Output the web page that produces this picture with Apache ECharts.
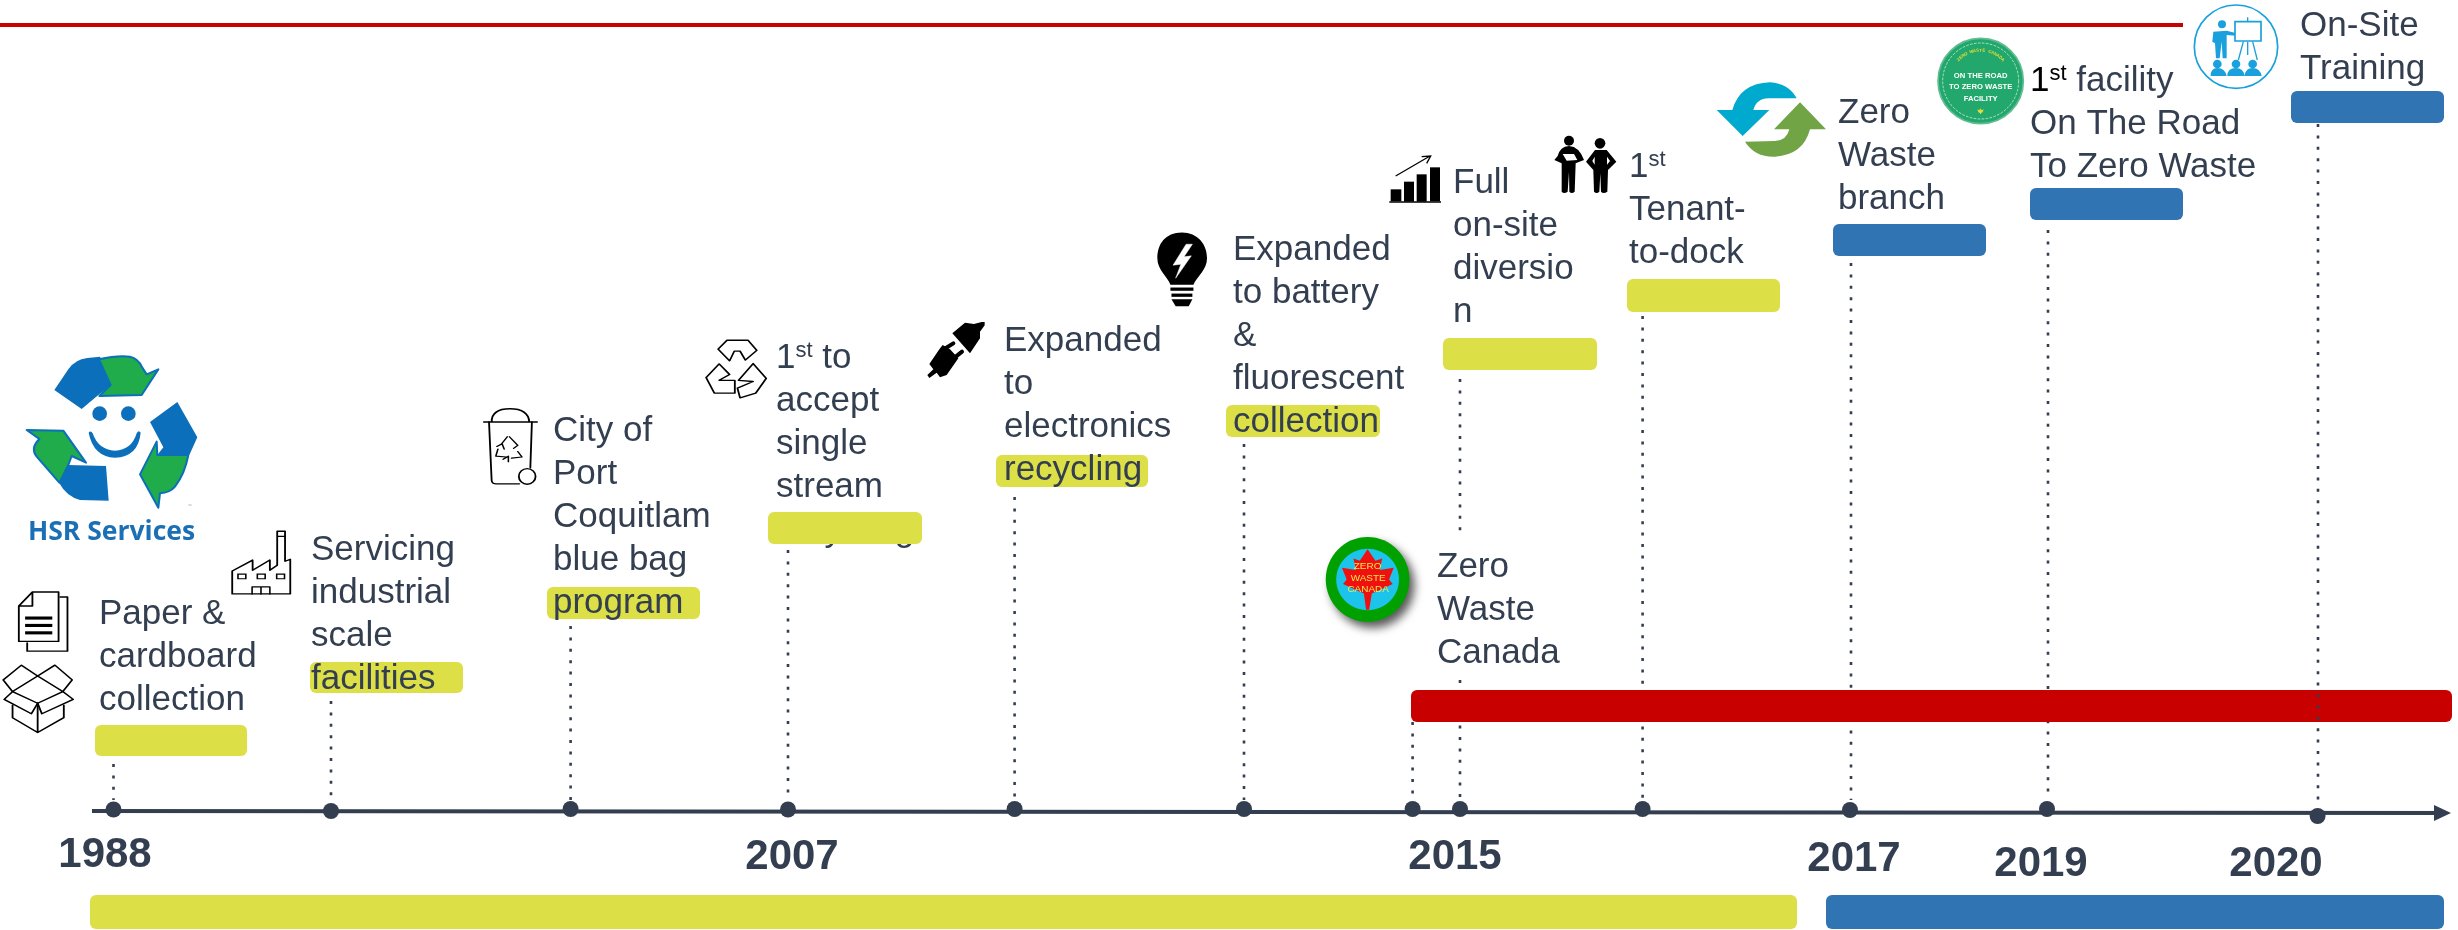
<!DOCTYPE html>
<html><head><meta charset="utf-8">
<style>html,body{margin:0;padding:0;background:#fff}#c{width:2458px;height:930px}</style>
<script src="https://cdn.jsdelivr.net/npm/echarts@6/dist/echarts.min.js"></script>
</head><body><div id="c"></div>
<script>
// ---------- values ----------
const yearLabels = ['1988','2007','2015','2017','2019','2020'];
const yearX = [105,792,1455,1854,2041,2276];
const yearY = [855,857,857,859,864,864];

const milestoneX = [113.5,331,570.6,788,1014.6,1244,1412.6,1460,1642.6,1850,2047,2317.6];
const milestoneY = [809.5,811,809,809.5,809,809,809,809,809,810,809,816];

const eventLines = [
  ['Paper &','cardboard','collection'],
  ['Servicing','industrial','scale','facilities'],
  ['City of','Port','Coquitlam','blue bag','program'],
  ['1{sup|st} to','accept','single','stream'],
  ['Expanded','to','electronics','recycling'],
  ['Expanded','to battery','&','fluorescent','collection'],
  ['Full','on-site','diversio','n'],
  ['1{sup|st}','Tenant-','to-dock'],
  ['Zero','Waste','branch'],
  ['{blk|1}{bsup|st} facility','On The Road','To Zero Waste'],
  ['On-Site','Training'],
  ['Zero','Waste','Canada']
];
const eventTextX = [99,311,553,776,1004,1233,1453,1629,1838,2030,2300,1437];
const eventTextY = [614,550,431,358,341,250,183,167,113,81,26,567];
const lineStep = 43.2;

const hiddenWord = ['recycling'];
const hiddenWordX = [776];
const hiddenWordY = [531];

const pillStart  = [95,310,547,768,996,1226,1443,1627,1833,2030,2291];
const pillEnd    = [247,463,700,922,1148,1380,1597,1780,1986,2183,2444];
const pillTop    = [725,662,587,512,455,405,338,279,224,188,91];
const pillBottom = [756,693,619,544,487,437,370,312,256,220,123];
const pillKind   = ['y','y','y','y','y','y','y','y','b','b','b'];

const bandStart  = [90,1826,1411];
const bandEnd    = [1797,2444,2452];
const bandTop    = [895,895,690];
const bandBottom = [929,929,722];
const bandKind   = ['y','b','r'];

const dottedX      = [113.5,331,570.6,788,1014.6,1244,1412.6,1460,1460,1642.6,1851,2048];
const dottedTop    = [764,701,626,550,497,444,722,379,680,316,263,230];
const dottedBottom = [800,800,800,800,800,800,800,531,800,800,800,800];
const dottedOverX = [2318];
const dottedOverTop = [124];
const dottedOverBottom = [806];

const axisStart = [92,811];
const axisEnd = [2440,813];
const topRule = [[0,25],[2183,25]];

const brandText = ['HSR Services'];
const brandX = [28];
const brandY = [532];

const iconNames = ['logo','doc','box','factory','bin','recycle','plug','bulb','canada','chart','people','zero','road','training'];
const iconX = [0,0,0,0,0,0,900,820,820,1370,1370,1700,1920,2180];
const iconY = [340,320,320,320,320,320,300,200,200,130,130,70,30,0];
const iconScaleX = [1/3,1/1.912,1/1.912,1/1.912,1/1.912,1/1.912,1/3,1/1.912,1/1.912,1/3,1/3,1/3,1/3,1/3];
const iconScaleY = [1/3,1/2.57,1/2.57,1/2.57,1/2.57,1/2.57,1/3,1/2.148,1/2.148,1/3,1/3,1/3,1/3,1/3];

// ---------- colours ----------
const INK='#333f50', YEL='#dcdf45', BLU='#3074b4', RED='#c80000';
const kindColor={y:YEL,b:BLU,r:RED};
const FONT='"Liberation Sans", Arial, sans-serif';

// ---------- icon drawing ----------
let pathCount=0;
function P(d,style){
  const name='iconPath'+(pathCount++);
  echarts.graphic.registerShape(name,echarts.graphic.extendPath(d));
  return {type:name,style:style};
}
const K={fill:'#000'};
const S=(w)=>({fill:'none',stroke:'#000',lineWidth:w||3.5,lineJoin:'round',lineCap:'round'});
const W={fill:'#fff'};
const circle=(cx,cy,r,style)=>({type:'circle',shape:{cx,cy,r},style});
const ell=(cx,cy,rx,ry,style)=>({type:'ellipse',shape:{cx,cy,rx,ry},style});
const rect=(x,y,width,height,style)=>({type:'rect',shape:{x,y,width,height},style});

const LB='#0b6fbb', LG='#21ac4b';
const lgS={fill:LG,stroke:LB,lineWidth:6,lineJoin:'round'};
const CY='#00a9ce', GR='#70a444', TB='#1aa0dc';
const roadLetters=(()=>{
  const t='ZERO WASTE CANADA',out=[],n=t.length;
  for(let i=0;i<n;i++){
    const a=(-46+92*i/(n-1))*Math.PI/180;
    out.push({type:'text',x:182+92*Math.sin(a),y:153-92*Math.cos(a),rotation:-a,
      style:{text:t[i],font:'bold 13px '+FONT,fill:'#e3dc3a',align:'center',verticalAlign:'middle'}});
  }
  return out;
})();
const centerText=(text,x,y,font,fill)=>({type:'text',style:{text,x,y,font,fill,align:'center',verticalAlign:'middle'}});

const iconKids={
 logo:[
  P('M163,150 L205,88 Q225,58 262,54 L300,50 L340,130 L295,165 L245,207 Z',{fill:LB}),
  P('M297,58 Q350,46 390,50 Q415,56 425,80 L440,103 L475,88 L425,165 L298,168 L332,135 Z',lgS),
  P('M532,186 L592,292 L568,345 L472,345 L490,322 L450,246 Z',{fill:LB}),
  P('M565,345 Q555,400 525,440 Q510,458 480,460 L475,503 L420,403 L470,305 L472,345 Z',lgS),
  P('M80,270 L190,272 L258,368 L215,348 L205,375 L178,428 L110,350 Q90,325 118,297 Z',lgS),
  P('M205,375 L318,378 L326,482 L240,480 Q200,470 178,430 Z',{fill:LB}),
  circle(299,221,22,{fill:LB}),circle(385,221,22,{fill:LB}),
  P('M266,278 Q272,270 278,280 Q295,330 345,332 Q395,330 410,280 Q416,268 422,278 Q415,350 345,353 Q280,350 266,278 Z',{fill:LB}),
  rect(565,494,10,2,{fill:'#8899aa'})
 ],
 doc:[
  P('M115,712 L129,712 L129,851 L52,851 L52,830',S()),
  P('M62,699 L112,699 L112,826 L36,826 L36,735 Z M62,699 L62,735 L36,735',S()),
  rect(48,762,52,8,K),rect(48,781,52,8,K),rect(48,800,52,8,K)
 ],
 box:[
  P('M6,925 L41,887 L72,915 L105,887 L138,925 L120,955 L140,975 L80,1012 L72,985 L60,1012 L8,975 L24,955 Z',S()),
  P('M24,955 L72,915 L120,955 L72,985 Z',S()),
  P('M24,990 L24,1022 L72,1060 L122,1022 L122,990 M72,985 L72,1060',S())
 ],
 factory:[
  P('M444,704 L444,645 L483,617 L483,643 L516,617 L516,643 L530,630 L530,543 L545,543 L545,620 L555,615 L555,704 Z M530,556 L545,556',S()),
  rect(455,653,15,12,{fill:'none',stroke:'#000',lineWidth:3}),
  rect(492,653,15,12,{fill:'none',stroke:'#000',lineWidth:3}),
  rect(529,653,15,12,{fill:'none',stroke:'#000',lineWidth:3}),
  P('M482,704 L482,686 L516,686 L516,704 M499,686 L499,704',S(3))
 ],
 bin:[
  P('M925,262 L1027,262 M940,262 Q940,228 975,228 Q1010,228 1012,262',S()),
  P('M935,262 L940,412 Q940,423 952,421 L993,421 M1017,262 L1014,380',S()),
  ell(1008,402,16,20,S()),
  P('M970,300 L958,320 M974,300 L990,322 L982,330 M952,332 L948,350 L968,352 M978,355 L998,352 L990,338 M950,325 L960,318 L964,332 M962,358 L972,350 L972,364',S(3))
 ],
 recycle:[
  P('M1373,75 L1390,52 L1430,52 L1447,78 L1425,103 L1415,80 L1404,80 L1395,105 Z',S()),
  P('M1375,113 L1350,148 L1366,188 L1405,188 L1405,155 L1375,155 L1395,140 Z',S()),
  P('M1440,112 L1465,150 L1445,188 L1415,200 L1410,175 L1440,158 L1412,155 Z',S())
 ],
 plug:[
  P('M157,100 L195,68 L222,72 L245,66 L254,66 L254,76 L240,95 L240,115 L210,160 Z',K),
  P('M88,192 L118,148 L128,135 L150,148 L175,175 L140,225 L120,232 L110,218 L88,234 L82,225 L100,208 Z',K),
  P('M128,150 L160,130 M160,176 L186,155',{fill:'none',stroke:'#000',lineWidth:12,lineCap:'round'})
 ],
 bulb:[
  P('M692,70 C660,70 645,95 645,125 C645,150 665,165 670,182 L714,182 C720,165 740,150 740,125 C740,95 722,70 692,70 Z',K),
  P('M700,95 L675,140 L690,138 L680,168 L710,120 L696,122 L712,95 Z',{fill:'#fff',stroke:'#fff',lineWidth:1}),
  rect(670,188,44,7,K),rect(672,201,40,7,K),
  P('M672,213 L712,213 L705,228 L680,228 Z',K)
 ],
 canada:[
  ell(1047,815,80,91,{fill:'#00a000',shadowBlur:10,shadowOffsetX:5,shadowOffsetY:6,shadowColor:'rgba(0,0,0,0.65)'}),
  ell(1047,815,60,66,{fill:'#1cc3ea'}),
  P('M1047,750 L1062,775 L1075,770 L1070,795 L1097,790 L1088,815 L1095,825 L1055,845 L1050,880 L1044,880 L1040,845 L1000,825 L1007,815 L998,790 L1025,795 L1020,770 L1032,775 Z',{fill:'#f01010'}),
  centerText('ZERO',1047,788,'19px '+FONT,'#f4e94a'),
  centerText('WASTE',1048,813,'19px '+FONT,'#f4e94a'),
  centerText('CANADA',1048,837,'19px '+FONT,'#f4e94a')
 ],
 chart:[
  rect(62,178,32,36,K),rect(102,155,30,60,K),rect(140,133,30,82,K),rect(180,112,30,102,K),rect(58,214,155,4,K),
  P('M77,138 L180,78 M155,80 L182,78 L170,100',{fill:'none',stroke:'#000',lineWidth:4})
 ],
 people:[
  circle(597,32,15,K),
  P('M563,78 Q570,50 597,48 Q628,50 642,90 L617,100 L614,185 Q605,193 598,185 L597,125 L593,185 Q582,193 575,185 L575,100 L553,90 Z',K),
  P('M578,72 L612,72 L622,90 L590,92 Z',W),
  circle(690,40,16,K),
  P('M648,95 L675,60 L710,60 L739,95 L714,120 L712,185 Q700,193 693,185 L691,130 L688,185 Q680,193 672,185 L670,120 Z',K),
  P('M667,93 L674,80 L674,104 Z M720,93 L711,80 L711,104 Z',W)
 ],
 zero:[
  P('M290,85 Q265,40 210,37 Q120,40 97,120 L50,120 L128,198 L208,120 L160,120 Q170,85 205,85 Z',{fill:CY}),
  P('M135,215 Q165,262 225,260 Q310,255 330,178 L378,178 L300,97 L222,178 L268,178 Q260,212 225,213 Z',{fill:GR})
 ],
 road:[
  circle(182,153,128,{fill:'#22a86c',stroke:'#62bd92',lineWidth:5}),
  circle(182,153,114,{fill:'none',stroke:'#e8f7ef',lineWidth:2,lineDash:[8,4]}),
  ...roadLetters,
  centerText('ON THE ROAD',182,138,'bold 23px '+FONT,'#fff'),
  centerText('TO ZERO WASTE',182,172,'bold 23px '+FONT,'#fff'),
  centerText('FACILITY',182,206,'bold 23px '+FONT,'#fff'),
  P('M181,235 L185,241 L191,238 L188,247 L183,249 L183,252 L180,252 L180,249 L175,247 L172,238 L178,241 Z',{fill:'#e3dc3a'})
 ],
 training:[
  circle(168,140,125,{fill:'none',stroke:TB,lineWidth:5}),
  circle(126,73,12,{fill:TB}),
  P('M100,95 L140,92 L170,100 L168,107 L140,105 L140,175 L128,175 L125,125 L119,175 L108,175 L105,130 L97,125 Z',{fill:TB}),
  rect(165,65,78,58,{fill:'#fff',stroke:TB,lineWidth:5}),
  P('M203,52 L203,65 M190,125 L175,180 M203,125 L203,165 M218,125 L232,180',{fill:'none',stroke:TB,lineWidth:4}),
  circle(112,192,13,{fill:TB}),circle(168,192,13,{fill:TB}),circle(218,192,13,{fill:TB}),
  P('M92,228 Q92,204 112,204 Q135,204 140,228 Z M142,228 Q142,204 168,204 Q190,204 194,228 Z M194,228 Q196,204 218,204 Q240,204 245,228 Z',{fill:TB})
 ]
};

// ---------- helpers ----------
const band=(api,color)=>{
  const a=api.coord([api.value(0),api.value(2)]),b=api.coord([api.value(1),api.value(3)]);
  return {type:'rect',shape:{x:a[0],y:a[1],width:b[0]-a[0],height:b[1]-a[1],r:6},style:{fill:color}};
};
const dotted=()=>(params,api)=>{
  const a=api.coord([api.value(0),api.value(1)]),b=api.coord([api.value(0),api.value(2)]);
  return {type:'line',shape:{x1:a[0],y1:a[1],x2:b[0],y2:b[1]},
    style:{stroke:INK,lineWidth:2.6,lineDash:[3,8.4]}};
};
const textBase={symbolSize:0,silent:true,animation:false,z:6,itemStyle:{opacity:1}};

const eventTextData=[];
eventLines.forEach((lines,i)=>lines.forEach((t,j)=>{
  eventTextData.push({value:[eventTextX[i],eventTextY[i]+j*lineStep],text:t});
}));

const pillData=pillStart.map((s,i)=>({value:[s,pillEnd[i],pillTop[i],pillBottom[i]],kind:pillKind[i]}));
const bandData=bandStart.map((s,i)=>({value:[s,bandEnd[i],bandTop[i],bandBottom[i]],kind:bandKind[i]}));

const chart=echarts.init(document.getElementById('c'),null,{renderer:'canvas'});
chart.setOption({
  animation:false,
  backgroundColor:'#fff',
  grid:{left:0,right:0,top:0,bottom:0},
  xAxis:{type:'value',min:0,max:2458,show:false},
  yAxis:{type:'value',min:0,max:930,inverse:true,show:false},
  series:[
    {type:'line',name:'top rule',data:topRule,symbol:'none',silent:true,z:2,
      lineStyle:{color:RED,width:4}},
    {type:'custom',name:'dotted',coordinateSystem:'cartesian2d',clip:false,z:1,silent:true,
      data:dottedX.map((x,i)=>[x,dottedTop[i],dottedBottom[i]]),
      renderItem:dotted()},
    {type:'scatter',...textBase,z:1,name:'covered word',
      data:hiddenWord.map((t,i)=>({value:[hiddenWordX[i],hiddenWordY[i]],text:t})),
      label:{show:true,position:'right',distance:0,color:INK,fontFamily:FONT,fontSize:35,
        formatter:p=>p.data.text}},
    {type:'custom',name:'pills',coordinateSystem:'cartesian2d',z:2,silent:true,
      data:pillData,
      renderItem:(params,api)=>band(api,kindColor[pillData[params.dataIndex].kind])},
    {type:'custom',name:'bands',coordinateSystem:'cartesian2d',z:2,silent:true,
      data:bandData,
      renderItem:(params,api)=>band(api,kindColor[bandData[params.dataIndex].kind])},
    {type:'custom',name:'dotted over',coordinateSystem:'cartesian2d',clip:false,z:3,silent:true,
      data:dottedOverX.map((x,i)=>[x,dottedOverTop[i],dottedOverBottom[i]]),
      renderItem:dotted()},
    {type:'line',name:'timeline',data:[axisStart,axisEnd],symbol:'none',silent:true,z:4,
      lineStyle:{color:INK,width:4}},
    {type:'custom',name:'arrow',coordinateSystem:'cartesian2d',z:4,silent:true,data:[axisEnd],
      renderItem:(params,api)=>{
        const c=api.coord([api.value(0),api.value(1)]);
        return {type:'polygon',shape:{points:[[c[0]-6,c[1]-8],[c[0]+11,c[1]],[c[0]-6,c[1]+8]]},style:{fill:INK}};
      }},
    {type:'scatter',name:'milestones',data:milestoneX.map((x,i)=>[x,milestoneY[i]]),symbol:'circle',symbolSize:16,
      silent:true,z:5,itemStyle:{color:INK,opacity:1}},
    {type:'scatter',...textBase,name:'events',data:eventTextData,
      label:{show:true,position:'right',distance:0,color:INK,fontFamily:FONT,fontSize:35,
        formatter:p=>p.data.text,
        rich:{
          sup:{fontSize:22,color:INK,fontFamily:FONT,verticalAlign:'top',lineHeight:36},
          blk:{fontSize:35,color:'#000',fontFamily:FONT},
          bsup:{fontSize:22,color:'#000',fontFamily:FONT,verticalAlign:'top',lineHeight:36}
        }}},
    {type:'scatter',...textBase,name:'years',
      data:yearLabels.map((t,i)=>({value:[yearX[i],yearY[i]],text:t})),
      label:{show:true,position:'inside',color:INK,fontFamily:FONT,fontWeight:'bold',fontSize:42,
        formatter:p=>p.data.text}},
    {type:'scatter',...textBase,name:'brand',
      data:brandText.map((t,i)=>({value:[brandX[i],brandY[i]],text:t})),
      label:{show:true,position:'right',distance:0,color:'#1a6fb5',fontFamily:'"Open Sans"',fontWeight:'bold',fontSize:26.5,
        formatter:p=>p.data.text}},
    {type:'custom',name:'icons',coordinateSystem:'cartesian2d',clip:false,z:6,silent:true,
      data:iconNames.map((n,i)=>[iconX[i],iconY[i]]),
      renderItem:(params,api)=>{
        const i=params.dataIndex,c=api.coord([api.value(0),api.value(1)]);
        return {type:'group',x:c[0],y:c[1],scaleX:iconScaleX[i],scaleY:iconScaleY[i],
          children:iconKids[iconNames[i]]};
      }}
  ]
});
</script></body></html>
